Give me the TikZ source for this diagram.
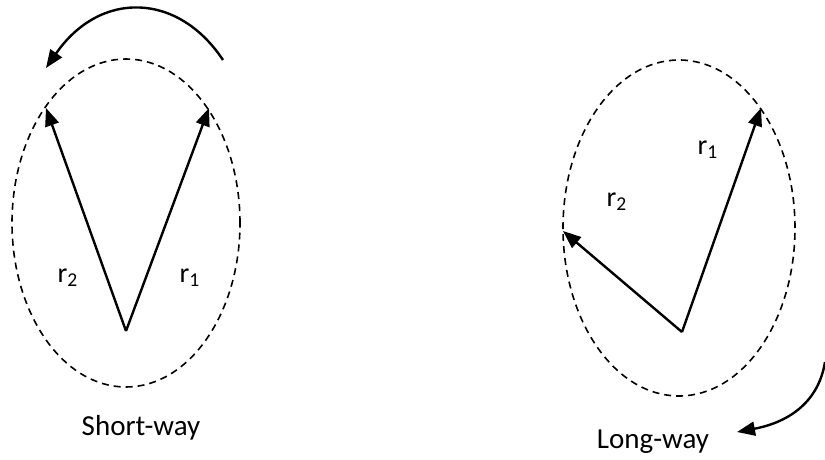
\documentclass[tikz,border=0pt]{standalone}
\usepackage{fontspec}
\setmainfont{Carlito}
\usetikzlibrary{arrows.meta}
\begin{document}
\begin{tikzpicture}[x=0.5pt,y=-0.5pt,
  vec/.style={line width=1.2pt,-{Triangle[length=9pt,width=7pt]}},
  orbit/.style={line width=0.8pt,dash pattern=on 3.5pt off 2.5pt},
  lbl/.style={font=\fontsize{14}{17}\selectfont,inner sep=0pt},
  captext/.style={font=\fontsize{14.5}{17}\selectfont,inner sep=0pt}]
\useasboundingbox (0,0) rectangle (825,460);
% left
\draw[orbit] (126,223) ellipse [x radius=57pt, y radius=82pt];
\coordinate (oL) at (126,331);
\coordinate (aL1) at (209,108);
\coordinate (aL2) at (46,108);
\draw[vec] (oL) -- (aL1);
\draw[vec] (oL) -- (aL2);
\node[lbl] (r2L) at (68,278) {r\textsubscript{2}};
\node[lbl] (r1L) at (190,278) {r\textsubscript{1}};
\coordinate (sA) at (223,60);
\coordinate (eA) at (46,68);
\draw[vec] (sA) .. controls (178,-8) and (100,-10) .. (eA);
\node[captext] (short) at (141,428) {Short-way};
% right
\draw[orbit] (679,228) ellipse [x radius=58pt, y radius=84pt];
\coordinate (oR) at (682,332);
\coordinate (aR1) at (761,108);
\coordinate (aR2) at (563,231);
\draw[vec] (oR) -- (aR1);
\draw[vec] (oR) -- (aR2);
\node[lbl] (r1R) at (708,150) {r\textsubscript{1}};
\node[lbl] (r2R) at (617,202) {r\textsubscript{2}};
\coordinate (sB) at (825,362);
\coordinate (eB) at (737,432);
\draw[vec] (sB) .. controls (818,405) and (785,423) .. (eB);
\node[captext] (long) at (653,442) {Long-way};
\end{tikzpicture}
\end{document}
